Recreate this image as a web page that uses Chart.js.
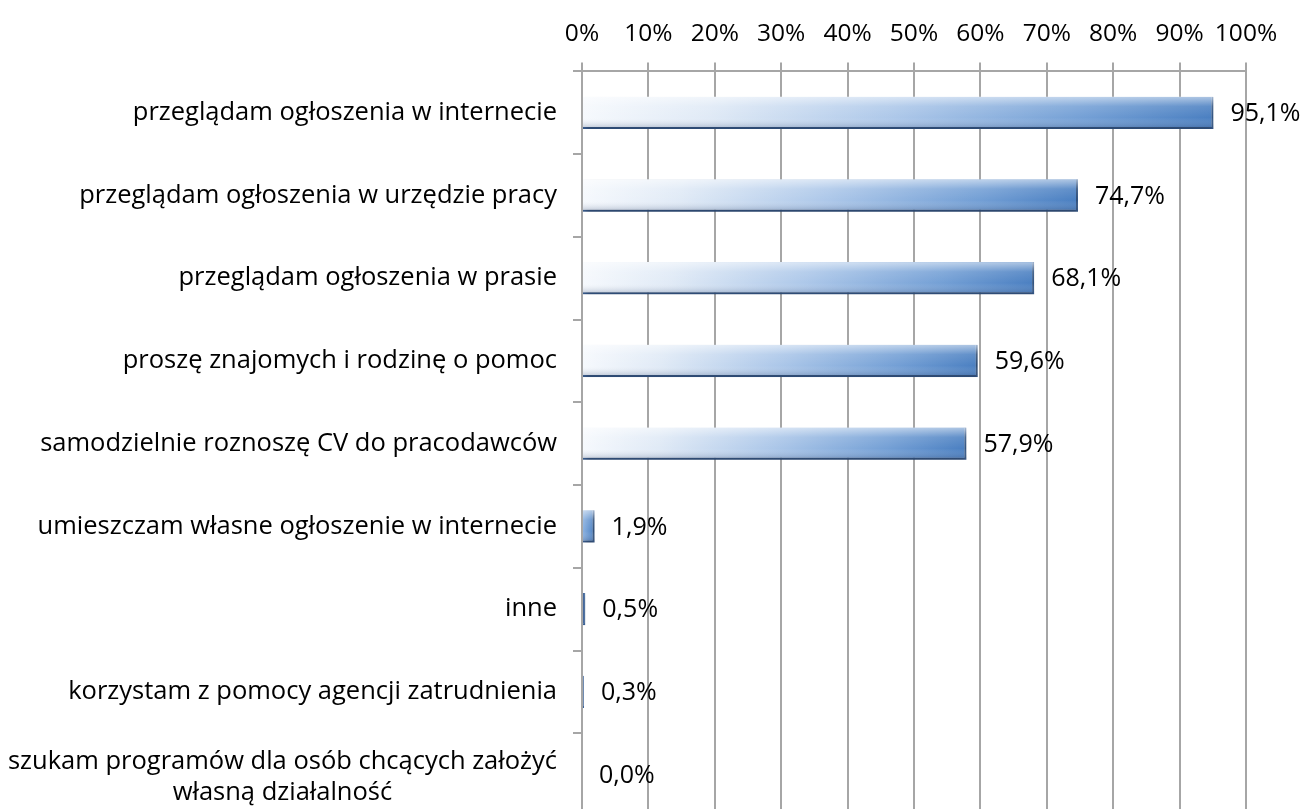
<!DOCTYPE html>
<html>
<head>
<meta charset="utf-8">
<script src="https://cdn.jsdelivr.net/npm/chart.js@4/dist/chart.umd.min.js"></script>
<style>
  html, body { margin: 0; padding: 0; background: #fff; overflow: hidden; }
  #wrap { width: 1305px; height: 840px; position: relative; }
</style>
</head>
<body>
<div id="wrap"><canvas id="chart"></canvas></div>
<script>
(function() {
  var ctx = document.getElementById('chart');

  var categories = [
    'przeglądam ogłoszenia w internecie',
    'przeglądam ogłoszenia w urzędzie pracy',
    'przeglądam ogłoszenia w prasie',
    'proszę znajomych i rodzinę o pomoc',
    'samodzielnie roznoszę CV do pracodawców',
    'umieszczam własne ogłoszenie w internecie',
    'inne',
    'korzystam z pomocy agencji zatrudnienia',
    ['szukam programów dla osób chcących założyć', 'własną działalność']
  ];
  var values = [95.1, 74.7, 68.1, 59.6, 57.9, 1.9, 0.5, 0.3, 0.0];

  var fontFamily = '"Open Sans", Lato, sans-serif';
  var tickFontSize = 24.5;
  var fontSize = 25;
  var catFontSize = 25.5;
  var gridColor = '#a6a6a6';
  var textColor = '#000000';
  var barBlue = '#4a7fc1';

  function pctLabel(v) {
    return v.toFixed(1).replace('.', ',') + '%';
  }

  /* horizontal white -> blue gradient per bar */
  function barFill(context) {
    var chart = context.chart;
    if (!chart.chartArea || !chart.scales.x) return barBlue;
    var x0 = chart.scales.x.getPixelForValue(0);
    var x1 = chart.scales.x.getPixelForValue(context.raw);
    if (x1 - x0 < 6) return '#45689d';   // hairline bars look dark
    var g = chart.ctx.createLinearGradient(x0, 0, x1, 0);
    if (x1 - x0 < 30) {
      // short bars stay blue
      g.addColorStop(0, '#8fb5e3');
      g.addColorStop(1, barBlue);
      return g;
    }
    g.addColorStop(0, '#f6f9fd');
    g.addColorStop(0.2, '#e0eaf6');
    g.addColorStop(0.5, '#acc7e9');
    g.addColorStop(0.8, '#739fd5');
    g.addColorStop(1, barBlue);
    return g;
  }

  new Chart(ctx, {
    type: 'bar',
    data: {
      labels: categories,
      datasets: [{
        data: values,
        backgroundColor: barFill,
        borderColor: '#3b649b',
        borderWidth: { top: 0, right: 2, bottom: 2, left: 0 },
        borderSkipped: 'start',
        barPercentage: 0.39,
        categoryPercentage: 1
      }]
    },
    options: {
      indexAxis: 'y',
      responsive: true,
      maintainAspectRatio: false,
      animation: false,
      layout: { padding: { top: 5, right: 59, bottom: 24, left: 573 } },
      plugins: {
        legend: { display: false },
        tooltip: { enabled: false }
      },
      scales: {
        x: {
          position: 'top',
          min: 0,
          max: 100,
          border: { display: true, color: gridColor, width: 2 },
          grid: { color: gridColor, lineWidth: 2, tickLength: 9 },
          ticks: {
            stepSize: 10,
            padding: 14,
            autoSkip: false,
            color: textColor,
            font: { size: tickFontSize, family: fontFamily },
            maxRotation: 0,
            callback: function(v) { return v + '%'; }
          }
        },
        y: {
          border: { display: true, color: gridColor, width: 2 },
          grid: { drawOnChartArea: false, color: gridColor, lineWidth: 2, tickLength: 9 },
          ticks: { display: false }
        }
      }
    },
    plugins: [{
      id: 'barLook',
      beforeDatasetsDraw: function(chart) {
        var c = chart.ctx;
        c.save();
        c.shadowColor = 'rgba(0,0,0,0.35)';
        c.shadowBlur = 5;
        c.shadowOffsetX = 2;
        c.shadowOffsetY = 3;
      },
      afterDatasetsDraw: function(chart) {
        var c = chart.ctx;
        c.restore();
        var meta = chart.getDatasetMeta(0);
        meta.data.forEach(function(bar, i) {
          var left = bar.base, right = bar.x;
          var top = bar.y - bar.height / 2, h = bar.height;
          if (right - left > 6) {
            /* vertical shading for the rounded look */
            var g = c.createLinearGradient(0, top, 0, top + h);
            g.addColorStop(0, 'rgba(255,255,255,0.55)');
            g.addColorStop(0.3, 'rgba(255,255,255,0.12)');
            g.addColorStop(0.65, 'rgba(255,255,255,0)');
            g.addColorStop(1, 'rgba(30,55,100,0.30)');
            c.save();
            c.fillStyle = g;
            c.fillRect(left, top, right - left, h);
            c.restore();
          }
          /* value label */
          c.save();
          c.font = fontSize + 'px ' + fontFamily;
          c.fillStyle = textColor;
          c.textAlign = 'left';
          c.textBaseline = 'middle';
          c.fillText(pctLabel(values[i]), right + 17, bar.y + 1);
          c.restore();
        });
      },
      afterDraw: function(chart) {
        /* category labels, right aligned; wrapped lines centred on each other */
        var c = chart.ctx;
        var yScale = chart.scales.y;
        var rightEdge = chart.chartArea.left - 25;
        var lineH = 31;
        c.save();
        c.font = catFontSize + 'px ' + fontFamily;
        c.fillStyle = textColor;
        c.textBaseline = 'middle';
        categories.forEach(function(label, i) {
          var lines = Array.isArray(label) ? label : [label];
          var yc = yScale.getPixelForTick(i);
          if (lines.length === 1) {
            c.textAlign = 'right';
            c.fillText(lines[0], rightEdge, yc);
            return;
          }
          var maxW = 0;
          lines.forEach(function(l) { maxW = Math.max(maxW, c.measureText(l).width); });
          c.textAlign = 'center';
          var y0 = yc - (lines.length - 1) * lineH / 2 + 3;
          lines.forEach(function(l, k) {
            c.fillText(l, rightEdge - maxW / 2, y0 + k * lineH);
          });
        });
        c.restore();
      }
    }]
  });
})();
</script>
</body>
</html>
